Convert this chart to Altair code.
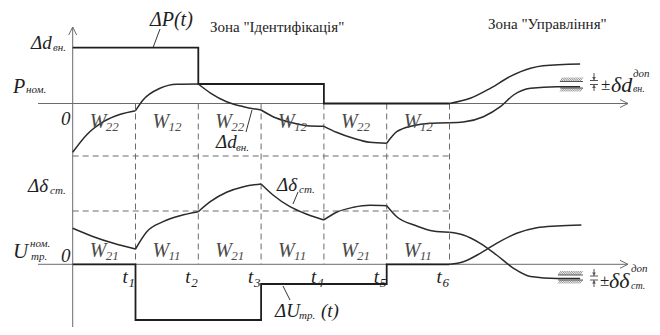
import altair as alt
import pandas as pd
import numpy as np

# ---------------- data ----------------
# x is measured in periods (t0 = 0 ... t6 = 6); y is the vertical level on the sheet (top-down)
T0_PX, DT_PX = 72.7, 62.8            # where t=0 lies and length of one period on the sheet
def X(px):
    return (px - T0_PX) / DT_PX

t_marks = [1, 2, 3, 4, 5, 6]
t_names = ["1", "2", "3", "4", "5", "6"]

AX_UP, AX_LO = 103.5, 264.3          # the two time axes
DASH_UP, DASH_LO = 156.0, 211.0      # dashed reference levels

# ΔP(t) step input
dp_t = [0, 2, 2, 4, 4, 6]
dp_y = [47.7, 47.7, 84.0, 84.0, 103.5, 103.5]
# ΔU_тр.(t) step input
du_t = [0, 1, 1, 3, 3, 5, 5, 6]
du_y = [264.3, 264.3, 320.0, 320.0, 284.0, 284.0, 264.3, 264.3]

# Δd_вн. response, one list per interval
dd_t = [[0, 0.22, 0.49, 0.76, 1], [1, 1.12, 1.39, 1.66, 2], [2, 2.20, 2.45, 2.72, 3],
        [3, 3.19, 3.46, 3.73, 4], [4, 4.20, 4.47, 4.73, 5], [5, 5.16, 5.42, 5.69, 6]]
dd_y = [[152.3, 135.0, 121.7, 114.3, 110.7], [110.7, 100.0, 88.3, 84.3, 84.0],
        [84.0, 93.3, 101.7, 106.7, 110.0], [110.0, 116.7, 122.3, 125.7, 126.3],
        [126.3, 132.3, 138.3, 142.3, 143.3], [143.3, 131.7, 125.7, 123.3, 122.7]]
# Δδ_ст. response
ds_t = [[0, 0.33, 0.65, 1], [1, 1.18, 1.44, 1.71, 2], [2, 2.19, 2.45, 2.72, 3],
        [3, 3.19, 3.46, 3.73, 4], [4, 4.20, 4.47, 4.73, 5], [5, 5.16, 5.48, 5.74, 6]]
ds_y = [[228.3, 236.7, 243.3, 249.0], [249.0, 231.7, 221.7, 215.7, 211.7],
        [211.7, 201.7, 192.3, 186.7, 184.0], [184.0, 195.0, 206.7, 214.3, 220.0],
        [220.0, 212.3, 207.3, 205.3, 205.7], [205.7, 216.7, 226.0, 231.0, 232.3]]
# control zone (after t6)
cz_p_t = [6, 6.33, 6.65, 6.96, 7.29, 7.49, 8.08]
cz_p_y = [103.5, 98.3, 88.3, 76.7, 68.3, 65.7, 64.0]
cz_d_t = [6, 6.22, 6.54, 6.81, 7.02, 7.29, 7.71, 8.08]
cz_d_y = [122.7, 122.0, 116.7, 106.7, 95.0, 88.3, 86.7, 86.7]
cz_s_t = [6, 6.22, 6.49, 6.75, 7.02, 7.29, 7.71, 8.08]
cz_s_y = [232.3, 235.0, 243.3, 255.0, 268.3, 276.5, 278.5, 278.5]
cz_u_t = [6, 6.22, 6.49, 6.75, 7.07, 7.39, 7.71, 8.10]
cz_u_y = [264.3, 261.7, 253.3, 243.3, 233.3, 227.7, 226.0, 225.0]

w_up = ["22", "12", "22", "12", "22", "12"]
w_lo = ["21", "11", "21", "11", "21", "11"]

# ---------------- build tables ----------------
curves = []
for i, (ts, ys) in enumerate(zip(dd_t, dd_y)):
    curves += [dict(s=f"d{i}", t=a, y=b) for a, b in zip(ts, ys)]
for i, (ts, ys) in enumerate(zip(ds_t, ds_y)):
    curves += [dict(s=f"s{i}", t=a, y=b) for a, b in zip(ts, ys)]
for name, ts, ys in [("cp", cz_p_t, cz_p_y), ("cd", cz_d_t, cz_d_y),
                     ("cs", cz_s_t, cz_s_y), ("cu", cz_u_t, cz_u_y)]:
    curves += [dict(s=name, t=a, y=b) for a, b in zip(ts, ys)]
curves = pd.DataFrame(curves)

steps = pd.DataFrame(
    [dict(s="P", o=k, t=a, y=b) for k, (a, b) in enumerate(zip(dp_t, dp_y))] +
    [dict(s="U", o=k, t=a, y=b) for k, (a, b) in enumerate(zip(du_t, du_y))])

dashes = pd.DataFrame(
    [dict(t=0, t2=6, y=DASH_UP, y2=DASH_UP), dict(t=0, t2=6, y=DASH_LO, y2=DASH_LO)] +
    [dict(t=k, t2=k, y=AX_UP, y2=AX_LO) for k in t_marks])

axes = pd.DataFrame([
    dict(t=X(38), t2=X(628), y=AX_UP, y2=AX_UP),
    dict(t=X(38), t2=X(628), y=AX_LO, y2=AX_LO),
    dict(t=0, t2=0, y=27, y2=330)])
heads = pd.DataFrame([dict(t=X(628), y=AX_UP, a=0), dict(t=X(628), y=AX_LO, a=0),
                      dict(t=0, y=27, a=270)])

leaders = pd.DataFrame([
    dict(t=X(160), t2=X(153), y=29, y2=47.7),
    dict(t=X(252), t2=X(246), y=110, y2=132),
    dict(t=X(298), t2=X(293), y=192, y2=204),
    dict(t=X(283), t2=X(290), y=286, y2=300)])

# tolerance hatching and the arrow marks
hatch = []
for (x0, x1, ya, yb) in [(560, 583, 77.5, 81.5), (560, 583, 88.0, 91.5),
                         (558, 583, 271.0, 275.0), (558, 583, 280.0, 283.5)]:
    for xs in np.arange(x0, x1 - 2, 1.8):
        hatch.append(dict(t=X(xs), t2=X(xs + 3), y=yb, y2=ya))
hatch = pd.DataFrame(hatch)
tol_lines = pd.DataFrame([
    dict(t=X(560), t2=X(583), y=81.5, y2=81.5), dict(t=X(560), t2=X(583), y=88.0, y2=88.0),
    dict(t=X(558), t2=X(583), y=275.0, y2=275.0), dict(t=X(558), t2=X(583), y=280.0, y2=280.0),
    dict(t=X(590), t2=X(598), y=80.5, y2=80.5), dict(t=X(590), t2=X(598), y=84.5, y2=84.5),
    dict(t=X(594), t2=X(594), y=73, y2=80.5), dict(t=X(594), t2=X(594), y=84.5, y2=91),
    dict(t=X(590), t2=X(598), y=276.0, y2=276.0), dict(t=X(590), t2=X(598), y=280.0, y2=280.0),
    dict(t=X(594), t2=X(594), y=269, y2=276), dict(t=X(594), t2=X(594), y=280, y2=287)])
tol_tri = pd.DataFrame([dict(t=X(594), y=78.5, a=90), dict(t=X(594), y=86.5, a=270),
                        dict(t=X(594), y=274, a=90), dict(t=X(594), y=282, a=270)])

INK = "#1e1e1e"
SOFT = "#4a4a4a"
it_text = [
    ("ΔP(t)", 150, 26, 20, INK), ("Δd", 31, 49, 19, INK), ("вн.", 53, 51, 11, INK),
    ("P", 13, 93, 20, INK), ("ном.", 26, 93, 11, INK), ("0", 61, 125, 19, INK),
    ("Δd", 216, 148, 19, INK), ("вн.", 236, 151, 11, INK),
    ("Δδ", 28, 192, 19, INK), ("ст.", 50, 194, 11, INK),
    ("Δδ", 277, 191, 19, INK), ("ст.", 299, 193, 11, INK),
    ("U", 13, 258, 21, INK), ("ном.", 30, 247, 11, INK), ("тр.", 31, 260, 11, INK),
    ("0", 61, 262, 19, INK),
    ("ΔU", 275, 317, 19, INK), ("тр.", 299, 319, 11, INK), ("(t)", 321, 317, 19, INK),
    ("δd", 611, 92, 22, INK), ("доп", 633, 77, 11, INK), ("вн.", 633, 92, 10, INK),
    ("δδ", 609, 288, 22, INK), ("доп", 631, 272, 11, INK), ("ст.", 631, 289, 10, INK),
]
rows = [dict(t=X(a), y=b, txt=s, fs=f, c=c) for (s, a, b, f, c) in it_text]
for k, n in zip(t_marks, t_names):
    px = T0_PX + k * DT_PX
    rows.append(dict(t=X(px - 13), y=283, txt="t", fs=19, c=INK))
    rows.append(dict(t=X(px - 7), y=287, txt=n, fs=13, c=INK))
for k in range(6):
    px = T0_PX + k * DT_PX + 17
    rows.append(dict(t=X(px), y=128, txt="W", fs=20, c=SOFT))
    rows.append(dict(t=X(px + 16), y=131, txt=w_up[k], fs=13, c=SOFT))
    rows.append(dict(t=X(px), y=257, txt="W", fs=20, c=SOFT))
    rows.append(dict(t=X(px + 16), y=260, txt=w_lo[k], fs=13, c=SOFT))
it_df = pd.DataFrame(rows)

up_df = pd.DataFrame([
    dict(t=X(210), y=32, txt='Зона "Ідентифікація"', fs=15),
    dict(t=X(488), y=29, txt='Зона "Управління"', fs=15),
    dict(t=X(601), y=90, txt="±", fs=17),
    dict(t=X(600), y=286, txt="±", fs=17)])

# ---------------- chart ----------------
W, H = 644, 319
xs = alt.Scale(domain=[X(8), X(8 + W)], nice=False, zero=False)
ys = alt.Scale(domain=[8, 8 + H], nice=False, zero=False, reverse=True)

def xy(**kw):
    return dict(x=alt.X("t:Q", scale=xs, axis=None), y=alt.Y("y:Q", scale=ys, axis=None), **kw)

def seg(df, **mk):
    return alt.Chart(df).mark_rule(**mk).encode(
        **xy(x2="t2:Q", y2="y2:Q"))

FONT = "'Liberation Serif', 'Times New Roman', Times, serif"

layers = [
    seg(dashes, color="#6b6b6b", strokeWidth=1, strokeDash=[6, 4]),
    seg(axes, color="#6b6b6b", strokeWidth=1),
    alt.Chart(heads).mark_point(shape="M-1,-0.5L0,0L-1,0.5", filled=False, size=256,
                                color="#6b6b6b", strokeWidth=1, opacity=1).encode(
        **xy(angle=alt.Angle("a:Q", scale=None))),
    seg(hatch, color="#777777", strokeWidth=0.8),
    seg(tol_lines, color="#555555", strokeWidth=1),
    alt.Chart(tol_tri).mark_point(shape="triangle-right", filled=True, size=14,
                                  color="#555555", opacity=1).encode(
        **xy(angle=alt.Angle("a:Q", scale=None))),
    alt.Chart(steps).mark_line(color=INK, strokeWidth=1.8, interpolate="linear").encode(
        **xy(detail="s:N", order="o:Q")),
    alt.Chart(curves).mark_line(color="#2b2b2b", strokeWidth=1.5, interpolate="monotone").encode(
        **xy(detail="s:N", order="t:Q")),
    seg(leaders, color=INK, strokeWidth=0.9),
    alt.Chart(it_df).mark_text(font=FONT, fontStyle="italic", align="left",
                               baseline="alphabetic").encode(
        **xy(text="txt:N", size=alt.Size("fs:Q", scale=None),
             color=alt.Color("c:N", scale=None))),
    alt.Chart(up_df).mark_text(font=FONT, align="left", baseline="alphabetic",
                               color=INK).encode(
        **xy(text="txt:N", size=alt.Size("fs:Q", scale=None))),
]

chart = alt.layer(*layers).properties(
    width=W, height=H, padding=0, autosize=alt.AutoSizeParams(type="none"),
    background="white"
).configure_view(stroke=None)

chart.save("out.html", embed_options={"renderer": "svg", "actions": False})
